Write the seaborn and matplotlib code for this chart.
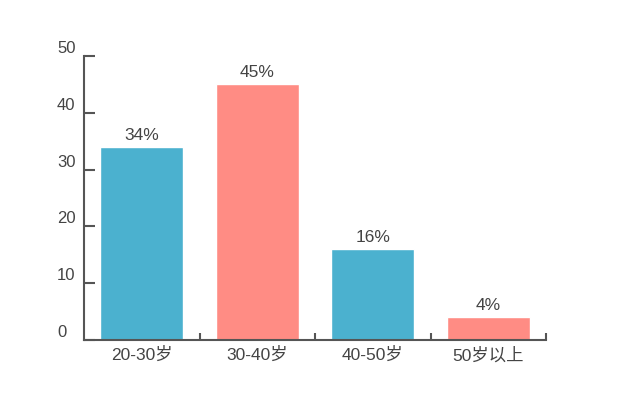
import matplotlib
matplotlib.use("Agg")
import matplotlib.pyplot as plt
import seaborn as sns
import pandas as pd

# data
age_groups = ["20-30岁", "30-40岁", "40-50岁", "50岁以上"]
shares = [34, 45, 16, 4]
share_labels = ["34%", "45%", "16%", "4%"]
bar_colors = ["#4bb1cf", "#ff8c84", "#4bb1cf", "#ff8c84"]
y_ticks = [0, 10, 20, 30, 40, 50]

sns.set_style("white")
plt.rcParams["font.family"] = ["Liberation Sans", "Noto Sans CJK SC", "DejaVu Sans"]

df = pd.DataFrame({"group": age_groups, "share": shares})

fig = plt.figure(figsize=(6.24, 4.01), dpi=100)
ax = fig.add_axes([84 / 624, 61 / 401, 462 / 624, 284 / 401])

sns.barplot(data=df, x="group", y="share", hue="group", palette=bar_colors,
            width=0.72, legend=False, saturation=1, ax=ax)

ax.set_xlim(-0.5, 3.5)
ax.set_ylim(0, 50)
ax.set_xlabel("")
ax.set_ylabel("")

for container, lab in zip(ax.containers, share_labels):
    ax.bar_label(container, labels=[lab], padding=3, fontsize=12.5, color="#444444")

gray = "#555555"
for side in ["top", "right"]:
    ax.spines[side].set_visible(False)
for side in ["left", "bottom"]:
    ax.spines[side].set_color(gray)
    ax.spines[side].set_linewidth(1.5)

ax.set_yticks(y_ticks)
ax.tick_params(axis="y", direction="in", length=8, width=1.5, color=gray,
               labelsize=12, labelcolor="#444444", pad=19.5, left=True)
for t in ax.get_yticklabels():
    t.set_horizontalalignment("left")
    t.set_verticalalignment("bottom")

ax.set_xticks([0.5, 1.5, 2.5, 3.5], minor=True)
ax.tick_params(axis="x", which="minor", direction="in", length=5, width=1.5, color=gray, bottom=True)
ax.tick_params(axis="x", which="major", length=0, labelsize=12.5, labelcolor="#444444", pad=5)

fig.savefig("out.png", dpi=100)
